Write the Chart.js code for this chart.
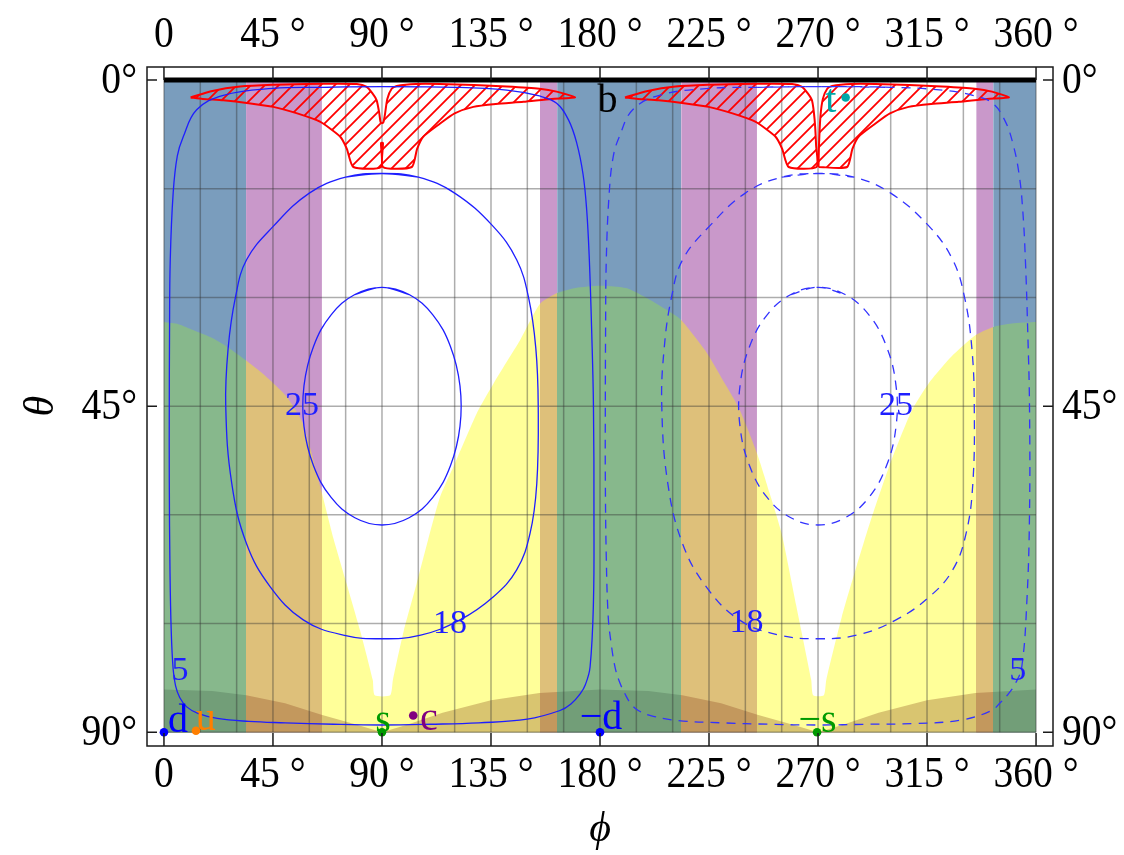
<!DOCTYPE html>
<html>
<head>
<meta charset="utf-8">
<script src="https://cdn.jsdelivr.net/npm/chart.js@4.4.1/dist/chart.umd.min.js"></script>
<style>
  html, body { margin: 0; padding: 0; background: #fff; }
</style>
</head>
<body>
<canvas id="chart" width="1124" height="855"></canvas>
<script>
// axes / ticks
const tickPhi = [0, 45, 90, 135, 180, 225, 270, 315, 360];
const tickPhiLabels = ["0", "45 °", "90 °", "135 °", "180 °", "225 °", "270 °", "315 °", "360 °"];
const tickTheta = [0, 45, 90];
const tickThetaLabels = ["0°", "45°", "90°"];
const gridPhi = [0, 15, 30, 45, 60, 75, 90, 105, 120, 135, 150, 165, 180, 195, 210, 225, 240, 255, 270, 285, 300, 315, 330, 345, 360];
const gridTheta = [0, 15, 30, 45, 60, 75, 90];

// vertical bands
const bandStart = [0, 33.9, 65.2, 155.2, 162.3, 213.5, 244.8, 335.3, 342.3];
const bandEnd = [33.9, 65.2, 155.2, 162.3, 213.5, 244.8, 335.3, 342.3, 360];
const bandKind = ["blue", "purple", "none", "purple", "blue", "purple", "none", "purple", "blue"];

// yellow region upper boundary
const yellowPhi = [0, 6, 12, 20, 26, 33.9, 40, 45, 50.7, 57.5, 65.2, 70, 75.4, 81, 86.2, 87, 93.4, 94.5, 99, 104.3, 109, 114, 120.1, 129.1, 136, 142, 147, 155.2, 162.3, 170, 180, 186, 191.7, 200, 207, 213.5, 223.4, 230, 237.1, 244.8, 250, 255, 261, 267.2, 268, 272.4, 273.4, 279.8, 286, 292.2, 299.8, 308.7, 315.6, 325, 335.1, 342.1, 350, 360];
const yellowTheta = [33.4, 33.7, 34.5, 35.6, 36.8, 38.7, 40.3, 41.8, 43.7, 47.5, 57, 63.3, 69.5, 76, 82.8, 84.9, 84.9, 82.8, 76, 69.5, 63.5, 57.5, 52.9, 46.0, 41.9, 38.6, 35.9, 30.9, 29.4, 28.7, 28.4, 28.5, 28.8, 30.2, 31.6, 33.1, 37.3, 41, 45.1, 51.5, 57, 62.6, 72.5, 82.8, 84.9, 84.9, 82.8, 74.1, 67, 60.3, 52.9, 45.6, 41.9, 38.2, 35.2, 34.1, 33.6, 33.4];

// dark band at the bottom
const brownPhi = [0, 20, 34, 50, 65, 80, 90, 100, 115, 135, 155, 180, 200, 214, 230, 245, 260, 270, 280, 295, 315, 335, 360];
const brownTheta = [84.1, 84.3, 84.9, 86.0, 87.6, 89.0, 90, 89.0, 87.3, 85.6, 84.6, 84.1, 84.3, 84.9, 86.0, 87.6, 89.0, 90, 89.0, 87.3, 85.6, 84.6, 84.1];

// hatched regions
const hatchLPhi = [11, 20, 31.4, 45, 58.9, 72, 79.6, 83.5, 86, 87.8, 88.9, 89.4, 90, 90.6, 91.2, 92.2, 94, 96.1, 104, 114, 128, 141.5, 155, 162.1, 169.7, 160, 148.4, 137, 127.7, 120, 114, 107.1, 104.5, 102.3, 90.4, 90.4, 89.6, 89.6, 78.2, 75.5, 72.7, 64.4, 55, 45.1, 35, 24.5, 16, 11];
const hatchLTheta = [2.4, 1.5, 0.9, 0.65, 0.55, 0.5, 0.55, 0.9, 1.8, 2.8, 4.6, 5.8, 5.95, 5.8, 4.8, 2.6, 1.2, 0.83, 0.55, 0.55, 0.7, 0.9, 1.2, 1.6, 2.4, 2.6, 3.0, 3.3, 3.7, 4.6, 6.0, 7.8, 9.5, 12.0, 12.0, 8.7, 8.7, 12.0, 12.0, 9.5, 7.8, 5.75, 4.6, 3.7, 3.2, 2.8, 2.6, 2.4];
const hatchAPhi = [190.3, 199.7, 211.1, 224.7, 238.6, 251.7, 259.3, 263.2, 265.7, 267.5, 268.6, 269.2, 269.4, 257.9, 255.2, 252.4, 244.1, 234.7, 224.8, 214.7, 204.2, 195.7, 190.3];
const hatchATheta = [2.4, 1.5, 0.9, 0.65, 0.55, 0.5, 0.55, 0.9, 1.8, 2.8, 5.5, 9, 12, 12, 9.5, 7.8, 5.75, 4.6, 3.7, 3.2, 2.8, 2.6, 2.4];
const hatchBPhi = [270.2, 270.4, 271, 272, 273.8, 275.8, 283.7, 293.7, 307.7, 321.2, 334.7, 341.8, 348.8, 339.7, 328.1, 316.7, 307.4, 299.7, 293.7, 286.8, 284.2, 282, 270.2];
const hatchBTheta = [12, 9, 5, 2.6, 1.2, 0.83, 0.55, 0.55, 0.7, 0.9, 1.2, 1.6, 2.4, 2.6, 3.0, 3.3, 3.7, 4.6, 6.0, 7.8, 9.5, 12, 12];

// contours 25 / 18 / 5 (solid left, dashed right)
const c25PhiL = [90, 101.2, 111.0, 118.3, 122.2, 122.2, 118.3, 111.0, 101.2, 90, 78.8, 69.0, 61.7, 57.8, 57.8, 61.7, 69.0, 78.8, 90];
const c25PhiR = [270, 281.2, 291.0, 298.3, 302.2, 302.2, 298.3, 291.0, 281.2, 270, 258.8, 249.0, 241.7, 237.8, 237.8, 241.7, 249.0, 258.8, 270];
const c25Theta = [28.6, 29.6, 32.4, 36.8, 42.2, 47.8, 53.2, 57.6, 60.4, 61.4, 60.4, 57.6, 53.2, 47.8, 42.2, 36.8, 32.4, 29.6, 28.6];

const c18PhiL = [90, 105, 120, 135.9, 145.6, 150.5, 153.5, 154.5, 153.9, 151.1, 145.6, 136, 122.2, 106, 90, 74, 57.5, 43.8, 34.1, 28, 25.5, 26.5, 29.5, 34.1, 45.1, 60, 75, 90];
const c18PhiR = [270, 285, 300, 315.9, 325.6, 330.5, 333.5, 334.5, 333.9, 331.1, 325.6, 316, 302.2, 286, 270, 254, 237.5, 223.8, 214.1, 208, 205.5, 206.5, 209.5, 214.1, 225.1, 240, 255, 270];
const c18Theta = [12.9, 13.4, 15.6, 20.2, 24.8, 30, 37, 45, 55.7, 62.6, 67.6, 71.3, 74.5, 76.6, 77.1, 76.6, 74.5, 69.9, 64, 55.7, 45, 37, 30, 24.8, 20.2, 15.6, 13.4, 12.9];

const c5PhiL = [90, 120, 141.5, 155, 162.1, 167, 170.4, 173, 174.5, 175.6, 176.6, 177.3, 177.5, 177.3, 175.9, 174, 171.8, 168, 163.5, 150, 130, 110, 90, 70, 50, 35, 22, 14, 9.4, 6.5, 4.8, 3.8, 3.0, 2.5, 2.2, 2.2, 2.3, 2.6, 3.8, 5.5, 8, 13.5, 24.5, 45, 65, 90];
const c5ThetaL = [0.9, 1.0, 1.4, 2.2, 3.2, 5.5, 8.7, 13, 17.9, 24.8, 35, 45, 60, 72, 81, 83.4, 84.7, 86.1, 87, 88.2, 88.7, 88.9, 89.0, 88.9, 88.7, 88.5, 88.1, 87.4, 86.5, 85.2, 83.6, 81.3, 76, 68, 55, 45, 35, 24.8, 15.6, 10.5, 7.8, 4.1, 2.1, 1.15, 1.0, 0.9];
const c5PhiR = [270, 300, 321.5, 335, 342.1, 347, 350.4, 353, 354.5, 355.6, 356.6, 357.3, 357.3, 356.2, 354.1, 351.6, 348.6, 345, 341.7, 329.4, 310, 290, 270, 250, 230, 212.4, 202, 195.8, 192.6, 190.3, 188, 186.2, 184.5, 183.4, 182.6, 182.2, 182.2, 182.3, 182.6, 183.8, 185.5, 188, 193.5, 204.5, 225, 245, 270];
const c5ThetaR = [0.9, 1.0, 1.4, 2.2, 3.2, 5.5, 8.7, 13, 17.9, 24.8, 35, 45, 60, 72, 81, 83.2, 84.7, 86, 87, 88.3, 88.8, 88.9, 89.0, 88.9, 88.7, 88.4, 87.8, 87.0, 86.0, 84.7, 83.0, 81, 77.5, 74.1, 66, 55, 45, 35, 24.8, 15.6, 10.5, 7.8, 4.1, 2.1, 1.15, 1.0, 0.9];

// thick line at theta = 0
const topLinePhi = [0, 360];
const topLineTheta = [0, 0];

// marked points
const pointName = ["d", "u", "s", "c", "−d", "−s", "t"];
const pointPhi = [0, 13.2, 90, 102.9, 180, 269.6, 281.4];
const pointTheta = [90, 89.8, 90, 87.7, 90, 90, 2.4];

// text labels
const labelText = ["d", "u", "s", "c", "−d", "−s", "t", "b", "25", "18", "5", "25", "18", "5"];
const labelPhi = [5.8, 17.3, 90.4, 109.4, 180.4, 269.8, 275.3, 183.1, 57, 118.1, 6.6, 302.2, 240.5, 352.4];
const labelTheta = [89.9, 89.7, 89.9, 89.7, 89.6, 89.9, 4.4, 4.4, 46.2, 76.3, 82.8, 46.2, 76.2, 82.8];

// styles
const serif = '"Liberation Serif", "DejaVu Serif", serif';
const bandColor = { blue: "rgb(122,157,189)", purple: "rgb(201,152,202)" };
const yellowShade = { blue: "rgb(135,184,140)", purple: "rgb(222,192,122)", none: "rgb(255,255,153)" };
const brownShade = { blue: "rgb(114,158,120)", purple: "rgb(195,152,93)", none: "rgb(217,197,112)" };
const textColor = { d: "#0000ff", u: "#ff7f00", s: "#009a00", c: "#800080", "−d": "#0000ff", "−s": "#009a00", t: "#00a8a8", b: "#000000" };
const contourColor = "rgb(30,30,255)";

const pts = (xs, ys) => xs.map((v, i) => ({ x: v, y: ys[i] }));
// closed loop: repeat a neighbour at each end so the spline has no corner at the seam
const loop = (xs, ys) => { const p = pts(xs, ys); return [p[p.length - 2], ...p, p[1]]; };

function bandGradient(chart, shades) {
  const x = chart.scales.x;
  if (!x || !chart.chartArea) return shades.none;
  const x0 = x.getPixelForValue(0), x1 = x.getPixelForValue(360);
  const g = chart.ctx.createLinearGradient(x0, 0, x1, 0);
  bandKind.forEach((k, i) => {
    g.addColorStop(bandStart[i] / 360, shades[k]);
    g.addColorStop(bandEnd[i] / 360, shades[k]);
  });
  return g;
}

function makeHatch() {
  const s = 14;
  const c = document.createElement("canvas");
  c.width = s; c.height = s;
  const g = c.getContext("2d");
  g.strokeStyle = "#ff0000";
  g.lineWidth = 1.8;
  g.beginPath();
  g.moveTo(-2, s + 2); g.lineTo(s + 2, -2);
  g.moveTo(-2, 2); g.lineTo(2, -2);
  g.moveTo(s - 2, s + 2); g.lineTo(s + 2, s - 2);
  g.stroke();
  return document.getElementById("chart").getContext("2d").createPattern(c, "repeat");
}
const hatch = makeHatch();

const base = { type: "line", pointRadius: 0, borderColor: "rgba(0,0,0,0)", borderWidth: 0, fill: false };
const datasets = [];

datasets.push({
  type: "scatter", data: pts(pointPhi, pointTheta), pointRadius: 4.3, pointBorderWidth: 0,
  pointBackgroundColor: pointName.map(n => textColor[n]), order: 1
});
datasets.push({ ...base, data: pts(topLinePhi, topLineTheta), borderColor: "#000", borderWidth: 5, borderCapStyle: "butt", order: 2 });

[[c25PhiL, c25Theta], [c18PhiL, c18Theta], [c5PhiL, c5ThetaL]].forEach(([p, t]) => {
  datasets.push({ ...base, data: loop(p, t), borderColor: contourColor, borderWidth: 1.3, tension: 0.4, order: 4 });
});
[[c25PhiR, c25Theta], [c18PhiR, c18Theta], [c5PhiR, c5ThetaR]].forEach(([p, t]) => {
  datasets.push({ ...base, data: loop(p, t), borderColor: "rgb(50,50,255)", borderWidth: 1.3, borderDash: [9, 7], tension: 0.4, order: 4 });
});

[[hatchLPhi, hatchLTheta], [hatchAPhi, hatchATheta], [hatchBPhi, hatchBTheta]].forEach(([p, t]) => {
  datasets.push({ ...base, data: pts(p, t), fill: "shape", backgroundColor: hatch, borderColor: "#ff0000", borderWidth: 2, tension: 0.2, order: 6 });
});

datasets.push({ ...base, data: pts(brownPhi, brownTheta), fill: { value: 90 }, backgroundColor: c => bandGradient(c.chart, brownShade), order: 8, gridAfter: true });
datasets.push({ ...base, data: pts(yellowPhi, yellowTheta), fill: { value: 90 }, backgroundColor: c => bandGradient(c.chart, yellowShade), tension: 0.2, order: 9 });

bandKind.forEach((k, i) => {
  if (k === "none") return;
  datasets.push({ ...base, data: [{ x: bandStart[i], y: 0 }, { x: bandEnd[i], y: 0 }], fill: { value: 90 }, backgroundColor: bandColor[k], order: 10 });
});

// grid lines drawn over the filled regions
const gridPlugin = {
  id: "gridOver",
  afterDatasetDraw(chart, args) {
    if (!chart.data.datasets[args.index].gridAfter) return;
    const { ctx, scales: { x, y } } = chart;
    ctx.save();
    ctx.strokeStyle = "rgba(50,50,50,0.4)";
    ctx.lineWidth = 1.5;
    gridPhi.forEach(p => {
      const px = x.getPixelForValue(p);
      ctx.beginPath(); ctx.moveTo(px, y.getPixelForValue(0)); ctx.lineTo(px, y.getPixelForValue(90)); ctx.stroke();
    });
    gridTheta.forEach(t => {
      const py = y.getPixelForValue(t);
      ctx.beginPath(); ctx.moveTo(x.getPixelForValue(0), py); ctx.lineTo(x.getPixelForValue(360), py); ctx.stroke();
    });
    ctx.restore();
  }
};

const labelPlugin = {
  id: "labels",
  afterDatasetsDraw(chart) {
    const { ctx, scales: { x, y } } = chart;
    ctx.save();
    ctx.textAlign = "center";
    ctx.textBaseline = "alphabetic";
    labelText.forEach((t, i) => {
      const isContour = /^[0-9]+$/.test(t);
      ctx.font = (isContour ? "34px " : "40px ") + serif;
      ctx.fillStyle = isContour ? contourColor : textColor[t];
      ctx.fillText(t, x.getPixelForValue(labelPhi[i]), y.getPixelForValue(labelTheta[i]));
    });
    ctx.restore();
  }
};

// slightly narrow text, like the original typesetting
function narrowText(ctx, text, px, py, align) {
  ctx.save();
  ctx.translate(px, py);
  ctx.scale(0.9, 1);
  ctx.textAlign = align;
  ctx.fillText(text, 0, 0);
  ctx.restore();
}

const framePlugin = {
  id: "frame",
  afterDraw(chart) {
    const { ctx, chartArea: a, scales: { x, y } } = chart;
    ctx.save();
    ctx.strokeStyle = "#1a1a1a";
    ctx.lineWidth = 1.5;
    ctx.strokeRect(a.left, a.top, a.right - a.left, a.bottom - a.top);
    ctx.beginPath();
    tickPhi.forEach(p => {
      const px = x.getPixelForValue(p);
      ctx.moveTo(px, a.top); ctx.lineTo(px, a.top + 13);
      ctx.moveTo(px, a.bottom); ctx.lineTo(px, a.bottom - 13);
    });
    tickTheta.forEach(t => {
      const py = y.getPixelForValue(t);
      ctx.moveTo(a.left, py); ctx.lineTo(a.left + 10, py);
      ctx.moveTo(a.right, py); ctx.lineTo(a.right - 10, py);
    });
    ctx.stroke();

    ctx.fillStyle = "#000";
    ctx.font = "44px " + serif;
    ctx.textBaseline = "alphabetic";
    tickPhi.forEach((p, i) => {
      const px = x.getPixelForValue(p);
      narrowText(ctx, tickPhiLabels[i], px, a.top - 20, "center");
      narrowText(ctx, tickPhiLabels[i], px, a.bottom + 41, "center");
    });
    tickTheta.forEach((t, i) => {
      const py = y.getPixelForValue(t) + 13;
      narrowText(ctx, tickThetaLabels[i], a.left - 10, py, "right");
      narrowText(ctx, tickThetaLabels[i], a.right + 9, py, "left");
    });

    ctx.font = "italic 42px " + serif;
    ctx.textAlign = "center";
    ctx.fillText("ϕ", x.getPixelForValue(180), 841);
    ctx.translate(53, y.getPixelForValue(45));
    ctx.rotate(-Math.PI / 2);
    ctx.fillText("θ", 0, 0);
    ctx.restore();
  }
};

new Chart(document.getElementById("chart"), {
  type: "scatter",
  data: { datasets },
  options: {
    responsive: false,
    animation: false,
    events: [],
    layout: { padding: { left: 147, right: 71, top: 67, bottom: 109 } },
    scales: {
      x: { type: "linear", min: -7, max: 367, display: false },
      y: { type: "linear", min: -1.8, max: 91.9, reverse: true, display: false }
    },
    plugins: { legend: { display: false }, tooltip: { enabled: false } }
  },
  plugins: [gridPlugin, labelPlugin, framePlugin]
});
</script>
</body>
</html>
